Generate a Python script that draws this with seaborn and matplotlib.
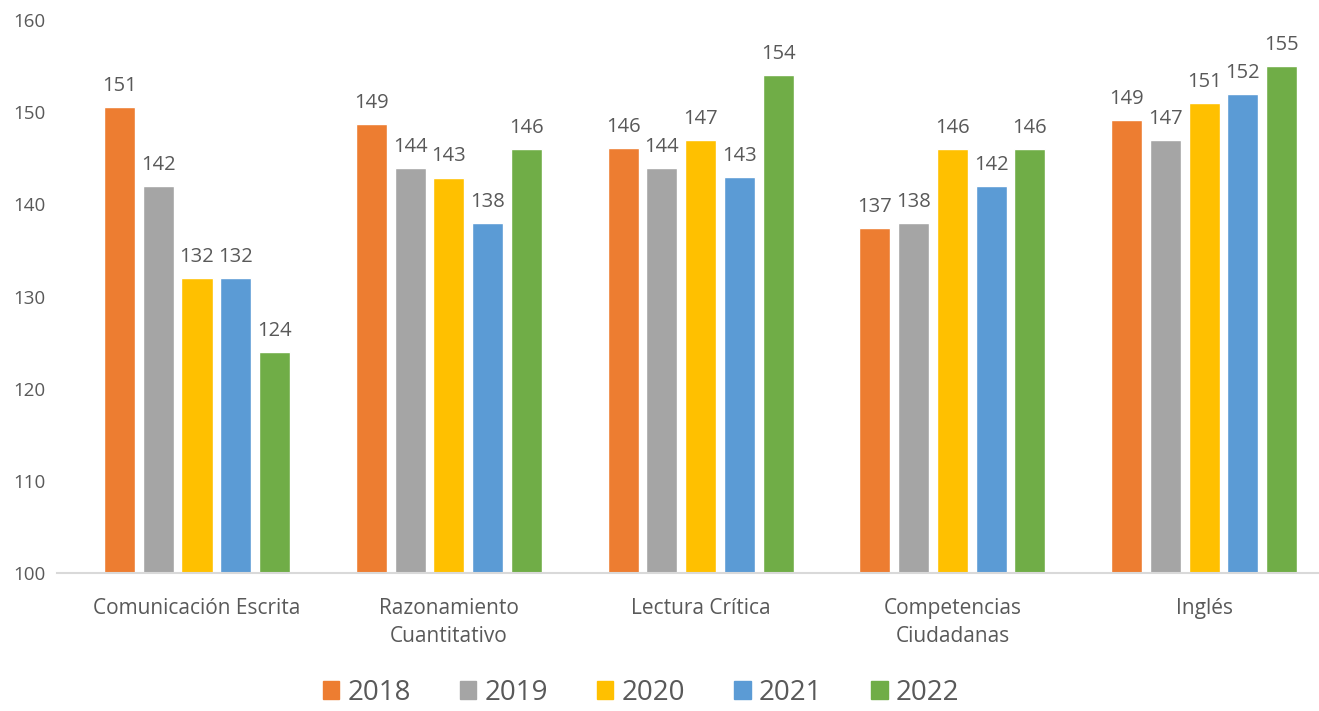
import pandas as pd
import numpy as np
import matplotlib.pyplot as plt
import seaborn as sns

# Data
categories = ['Comunicación Escrita', 'Razonamiento\nCuantitativo', 'Lectura Crítica',
              'Competencias\nCiudadanas', 'Inglés']
years = ['2018', '2019', '2020', '2021', '2022']
v2018 = [150.6, 148.7, 146.1, 137.4, 149.1]
v2019 = [142.0, 143.9, 143.9, 138.0, 147.0]
v2020 = [132.0, 142.9, 147.0, 146.0, 151.0]
v2021 = [132.0, 138.0, 143.0, 142.0, 152.0]
v2022 = [124.0, 146.0, 154.0, 146.0, 155.0]
colors = ['#ED7D31', '#A5A5A5', '#FFC000', '#5B9BD5', '#70AD47']

series = [v2018, v2019, v2020, v2021, v2022]
df = pd.DataFrame({
    'Prueba': categories * len(years),
    'Año': [y for y in years for _ in categories],
    'Puntaje': [v for s in series for v in s],
})

sns.set_style('white')
plt.rcParams['font.family'] = ['Open Sans', 'DejaVu Sans']
text_color = '#595959'

fig = plt.figure(figsize=(13.19, 7.11), dpi=100)
ax = fig.add_axes([57 / 1319, (711 - 573) / 711, 1 - 57 / 1319, (573 - 20) / 711])

sns.barplot(data=df, x='Prueba', y='Puntaje', hue='Año', palette=colors,
            width=0.77, gap=0.2, ax=ax, saturation=1, legend=False)

for cont in ax.containers:
    ax.bar_label(cont, fmt='{:.0f}', padding=8, fontsize=14.5, color=text_color)

ax.set_ylim(100, 160)
ax.set_yticks(range(100, 161, 10))
ax.set_xlim(-0.556, 4.456)
ax.set_xlabel('')
ax.set_ylabel('')
ax.tick_params(axis='y', labelsize=13.5, colors=text_color, length=0, pad=8)
ax.tick_params(axis='x', labelsize=15, colors=text_color, length=0, pad=18)
for lbl in ax.get_xticklabels():
    lbl.set_linespacing(1.45)
sns.despine(ax=ax, left=True, top=True, right=True)
ax.spines['bottom'].set_color('#D9D9D9')
ax.spines['bottom'].set_linewidth(1.5)

handles = [plt.Rectangle((0, 0), 1, 1, color=c) for c in colors]
fig.legend(handles, years, loc='center', bbox_to_anchor=(641 / 1319, 1 - 693 / 711),
           ncol=5, frameon=False, fontsize=20, handlelength=0.6, handleheight=0.6,
           handletextpad=0.3, columnspacing=1.75, labelcolor=text_color)

fig.savefig('out.png', dpi=100)
